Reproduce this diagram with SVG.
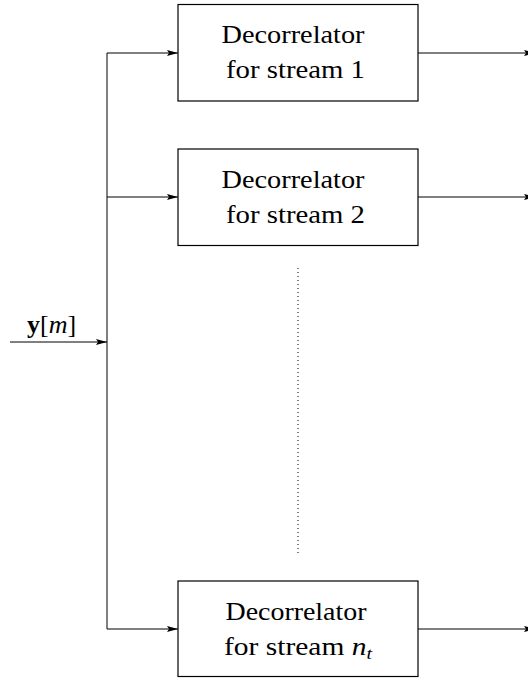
<svg xmlns="http://www.w3.org/2000/svg" width="528" height="678" viewBox="0 0 528 678">
<style>
.box{fill:#fff;stroke:#000;stroke-width:1.2}
.ln{fill:none;stroke:#000;stroke-width:1}
.t{font-family:"Liberation Serif","DejaVu Serif",serif;font-size:25px;fill:#000;text-anchor:middle}
</style>
<defs>
<marker id="ah" viewBox="0 0 11 7" refX="11" refY="3.5" markerWidth="11" markerHeight="7" markerUnits="userSpaceOnUse" orient="auto">
<path d="M0,0.5 L11,3.5 L0,6.5 L2,3.5 Z" fill="#000"/>
</marker>
</defs>
<rect width="528" height="678" fill="#fff"/>
<g id="connectors">
<line class="ln" x1="10" y1="342" x2="107" y2="342" marker-end="url(#ah)"/>
<line class="ln" x1="107" y1="53" x2="107" y2="629"/>
<line class="ln" x1="107" y1="53" x2="178" y2="53" marker-end="url(#ah)"/>
<line class="ln" x1="107" y1="197" x2="178" y2="197" marker-end="url(#ah)"/>
<line class="ln" x1="107" y1="629" x2="178" y2="629" marker-end="url(#ah)"/>
<line class="ln" x1="418" y1="53" x2="535" y2="53" marker-end="url(#ah)"/>
<line class="ln" x1="418" y1="197" x2="535" y2="197" marker-end="url(#ah)"/>
<line class="ln" x1="418" y1="629" x2="535" y2="629" marker-end="url(#ah)"/>
<line x1="298" y1="268" x2="298" y2="553" stroke="#000" stroke-width="1" stroke-dasharray="1 3"/>
</g>
<g id="input-label">
<text x="27" y="333" font-family="'Liberation Serif','DejaVu Serif',serif" font-size="26"><tspan font-weight="bold">y</tspan>[<tspan font-style="italic">m</tspan>]</text>
</g>
<g id="dec1">
<rect class="box" x="178" y="4.5" width="240" height="96.5"/>
<text class="t" x="293" y="43" textLength="143" lengthAdjust="spacingAndGlyphs">Decorrelator</text>
<text class="t" x="295.5" y="78" textLength="139" lengthAdjust="spacingAndGlyphs">for stream 1</text>
</g>
<g id="dec2">
<rect class="box" x="178" y="149" width="240" height="96.5"/>
<text class="t" x="293" y="188" textLength="143" lengthAdjust="spacingAndGlyphs">Decorrelator</text>
<text class="t" x="295.5" y="223" textLength="139" lengthAdjust="spacingAndGlyphs">for stream 2</text>
</g>
<g id="dec3">
<rect class="box" x="178" y="581" width="240" height="95.5"/>
<text class="t" x="296" y="620" textLength="141" lengthAdjust="spacingAndGlyphs">Decorrelator</text>
<text class="t" x="298" y="655" textLength="148" lengthAdjust="spacingAndGlyphs">for stream <tspan font-style="italic">n</tspan><tspan font-style="italic" font-size="17" dy="4">t</tspan></text>
</g>
</svg>
